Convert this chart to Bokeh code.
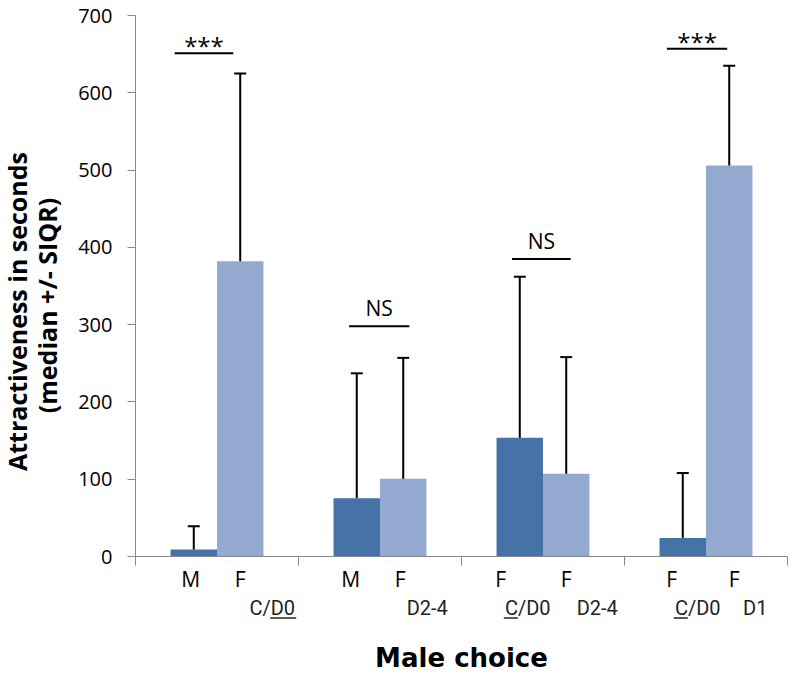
import math
from bokeh.plotting import figure
from bokeh.models import ColumnDataSource, Whisker, TeeHead, FixedTicker, Range1d
from bokeh.core.properties import value
from bokeh.embed import file_html
from bokeh.resources import INLINE

# ---------------- data ----------------
groups = ["Group 1", "Group 2", "Group 3", "Group 4"]
dark_values = [9, 75.5, 153.5, 24]          # median, first bar of each pair
light_values = [382, 100.5, 107, 506]       # median, second bar of each pair
dark_upper = [39, 237, 362, 108]            # median + SIQR
light_upper = [625, 257, 258, 635]          # median + SIQR
sig_labels = ["***", "NS", "NS", "***"]
sig_level = [651, 298, 385, 657]
sig_start = [0.24, 1.31, 2.31, 3.26]
sig_end = [0.60, 1.68, 2.67, 3.63]
sex_labels = [["M", "F"], ["M", "F"], ["F", "F"], ["F", "F"]]
cond_labels = [["", "C/D0"], ["", "D2-4"], ["C/D0", "D2-4"], ["C/D0", "D1"]]
y_ticks = [0, 100, 200, 300, 400, 500, 600, 700]
y_title = ["Attractiveness in seconds", "(median +/- SIQR)"]
x_title = "Male choice"

# ---------------- style / layout ----------------
DARK = "#4572A7"
LIGHT = "#94A9CF"
AXIS = "#888888"
W, H = 796, 675
X0_PX, X4_PX = 135, 787          # pixel positions of the x-axis ends
Y0_PX, Y700_PX = 556, 15         # pixel positions of 0 and 700
PX_X = (X4_PX - X0_PX) / len(groups)
PX_Y = (Y0_PX - Y700_PX) / 700.0


def X(px):
    return (px - X0_PX) / PX_X


def Y(py):
    return (Y0_PX - py) / PX_Y


BAR_W = 0.285
HALF = 0.1425
sex_offsets = [[-3, 0], [-6, -3], [-19, 0], [-11, 5]]
cond_offsets = [[0, 32], [0, 24], [8, 31], [15, 26]]
underline_px = [[None, (-2, 24)], [None, None], [(-24, -10), None], [(-24, -10), None]]
sig_gap = {"***": 7.5, "NS": 18}
sig_size = {"***": "24px", "NS": "21px"}

p = figure(width=W, height=H, min_border=0,
           x_range=Range1d(X(0), X(W)), y_range=Range1d(Y(H), Y(0)),
           output_backend="svg", toolbar_location=None,
           background_fill_color="white", border_fill_color="white")
p.outline_line_color = None
p.grid.visible = False

xs = list(range(len(groups)))
dark_x = [i + 0.5 - HALF for i in xs]
light_x = [i + 0.5 + HALF for i in xs]

src = ColumnDataSource(dict(dx=dark_x, lx=light_x, dv=dark_values, lv=light_values,
                            du=dark_upper, lu=light_upper))
p.vbar(x="dx", top="dv", width=BAR_W, source=src, fill_color=DARK, line_color=None)
p.vbar(x="lx", top="lv", width=BAR_W, source=src, fill_color=LIGHT, line_color=None)

for xcol, lo, up in [("dx", "dv", "du"), ("lx", "lv", "lu")]:
    w = Whisker(base=xcol, lower=lo, upper=up, source=src, dimension="height",
                line_color="black", line_width=2,
                upper_head=TeeHead(size=12, line_color="black", line_width=2),
                lower_head=None, level="glyph")
    p.add_layout(w)

# significance bars
p.segment(x0=sig_start, x1=sig_end, y0=sig_level, y1=sig_level,
          line_color="black", line_width=2)
for lab_type in ["***", "NS"]:
    idx = [k for k, s in enumerate(sig_labels) if s == lab_type]
    p.text(x=[(sig_start[k] + sig_end[k]) / 2 for k in idx],
           y=[sig_level[k] + sig_gap[lab_type] / PX_Y for k in idx],
           text=[lab_type for _ in idx], text_align="center", text_baseline="middle",
           text_font=value("Open Sans"), text_font_size=value(sig_size[lab_type]),
           text_color="black")

# axes (fixed at the data origin, limited by bounds)
p.yaxis.fixed_location = 0
p.yaxis.bounds = (0, 700)
p.yaxis.ticker = FixedTicker(ticks=y_ticks)
p.yaxis.axis_line_color = AXIS
p.yaxis.major_tick_line_color = AXIS
p.yaxis.major_tick_out = 8
p.yaxis.major_tick_in = 0
p.yaxis.minor_tick_line_color = None
p.yaxis.major_label_text_font = "Open Sans"
p.yaxis.major_label_text_font_size = "20px"
p.yaxis.major_label_text_color = "black"
p.yaxis.major_label_standoff = 15

p.xaxis.fixed_location = 0
p.xaxis.bounds = (0, len(groups))
p.xaxis.ticker = FixedTicker(ticks=[], minor_ticks=list(range(len(groups) + 1)))
p.xaxis.axis_line_color = AXIS
p.xaxis.major_tick_line_color = None
p.xaxis.minor_tick_line_color = AXIS
p.xaxis.minor_tick_out = 9
p.xaxis.minor_tick_in = 0

# category labels below the axis
row1_x, row1_t, row2_x, row2_t = [], [], [], []
ul_x0, ul_x1 = [], []
for i in xs:
    centers = [dark_x[i], light_x[i]]
    for j in range(2):
        row1_x.append(centers[j] + sex_offsets[i][j] / PX_X)
        row1_t.append(sex_labels[i][j])
        if cond_labels[i][j]:
            cx = centers[j] + cond_offsets[i][j] / PX_X
            row2_x.append(cx)
            row2_t.append(cond_labels[i][j])
            ul = underline_px[i][j]
            if ul:
                ul_x0.append(cx + ul[0] / PX_X)
                ul_x1.append(cx + ul[1] / PX_X)

p.text(x=row1_x, y=[Y(578)] * len(row1_x), text=row1_t, text_align="center",
       text_baseline="middle", text_font=value("Open Sans"),
       text_font_size=value("21px"), text_color="black")
p.text(x=row2_x, y=[Y(607.5)] * len(row2_x), text=row2_t, text_align="center",
       text_baseline="middle", text_font=value("Roboto"),
       text_font_size=value("20px"), text_color="#222222")
p.segment(x0=ul_x0, x1=ul_x1, y0=[Y(617.5)] * len(ul_x0), y1=[Y(617.5)] * len(ul_x0),
          line_color="#222222", line_width=1.5)

p.text(x=[len(groups) / 2], y=[Y(657)], text=[x_title], text_align="center",
       text_baseline="middle", text_font=value("DejaVu Sans"),
       text_font_style="bold", text_font_size=value("26px"), text_color="black")

p.text(x=[X(16), X(46)], y=[Y(311), Y(305)], text=y_title, angle=math.pi / 2,
       text_align="center", text_baseline="middle", text_font=value("Open Sans"),
       text_font_style="bold", text_font_size=value("25px"), text_color="black")

open("out.html", "w").write(file_html(p, INLINE))
